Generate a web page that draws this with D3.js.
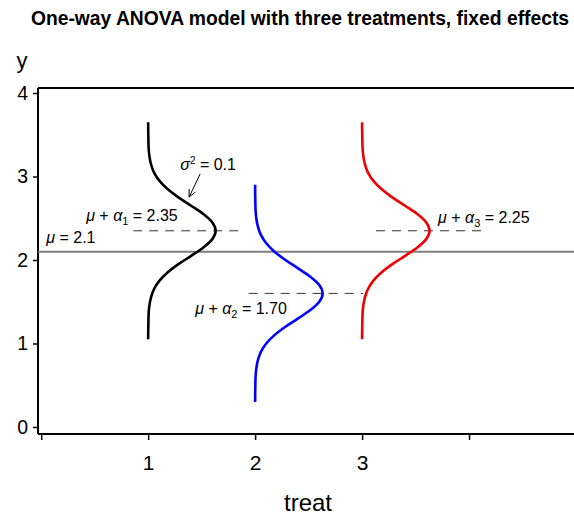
<!DOCTYPE html>
<html>
<head>
<meta charset="utf-8">
<script src="https://cdn.jsdelivr.net/npm/d3@7"></script>
<style>
  body { margin: 0; background: #fff; }
  svg { display: block; font-family: "Liberation Sans", Arial, sans-serif; }
</style>
</head>
<body>
<div id="chart"></div>
<script>
// treatments and where each density peaks
const treatments = [1, 2, 3];
const peakMeans = [2.35, 1.60, 2.35];
const curveColors = ['#000000', '#0000ff', '#ee0000'];
const grandMean = 2.1;

// dashed reference segments at each peak, x-extent in treat units
const dashFrom = [0.86, 1.94, 3.13];
const dashTo = [1.84, 3.01, 4.13];

// half-width of the density (treat units) at vertical distance from the peak
const shapeDist = [0, 0.1, 0.2, 0.3, 0.4, 0.5, 0.6, 0.7, 0.8, 0.9, 1.0, 1.1, 1.2, 1.3];
const shapeWidth = [0.631, 0.600, 0.516, 0.402, 0.283, 0.181, 0.104, 0.054, 0.026, 0.011, 0.004, 0.002, 0.0005, 0];

const yTicks = [0, 1, 2, 3, 4];
const xTicks = [0, 1, 2, 3, 4];
const xTickLabels = ['', '1', '2', '3', ''];

const W = 574, H = 518;

const svg = d3.select('#chart').append('svg')
    .attr('width', W)
    .attr('height', H);

const x = d3.scaleLinear().domain([-0.03, 5.0]).range([38, 576]);
const y = d3.scaleLinear().domain([-0.084, 4.06]).range([434, 88]);

// --- title ---
svg.append('text')
    .attr('x', 300)
    .attr('y', 25)
    .attr('text-anchor', 'middle')
    .attr('font-size', '19.3px')
    .attr('font-weight', 'bold')
    .text('One-way ANOVA model with three treatments, fixed effects');

// --- top border ---
svg.append('line')
    .attr('x1', x(-0.03)).attr('x2', W)
    .attr('y1', y(4.06)).attr('y2', y(4.06))
    .attr('stroke', '#000').attr('stroke-width', 2);

// --- axes ---
const yAxis = svg.append('g')
    .attr('transform', `translate(${x(-0.03)},0)`)
    .call(d3.axisLeft(y).tickValues(yTicks).tickSize(5).tickFormat(d3.format('d')));
yAxis.select('.domain').attr('stroke-width', 2).attr('d', `M0,${y(4.06)}V${y(-0.084)}`);
yAxis.selectAll('.tick line').attr('stroke-width', 1.5);
yAxis.selectAll('.tick text')
    .attr('font-size', '19.5px')
    .attr('font-family', '"Liberation Sans", Arial, sans-serif')
    .attr('x', -10);

const xAxis = svg.append('g')
    .attr('transform', `translate(0,${y(-0.084)})`)
    .call(d3.axisBottom(x).tickValues(xTicks).tickSize(6).tickFormat((d, i) => xTickLabels[i]));
xAxis.select('.domain').attr('stroke-width', 2).attr('d', `M${x(-0.03)},0H${W}`);
xAxis.selectAll('.tick line').attr('stroke-width', 1.5);
xAxis.selectAll('.tick text')
    .attr('font-size', '21px')
    .attr('font-family', '"Liberation Sans", Arial, sans-serif')
    .attr('y', 21);

svg.append('text')
    .attr('x', 22).attr('y', 68)
    .attr('text-anchor', 'middle')
    .attr('font-size', '22px')
    .text('y');

svg.append('text')
    .attr('x', 308).attr('y', 511)
    .attr('text-anchor', 'middle')
    .attr('font-size', '24px')
    .text('treat');

// --- grand mean line ---
svg.append('line')
    .attr('x1', x(-0.03)).attr('x2', W)
    .attr('y1', y(grandMean)).attr('y2', y(grandMean))
    .attr('stroke', '#808080').attr('stroke-width', 2);

// --- dashed lines at peaks ---
treatments.forEach((t, i) => {
    svg.append('line')
        .attr('x1', x(dashFrom[i])).attr('x2', x(dashTo[i]))
        .attr('y1', y(peakMeans[i])).attr('y2', y(peakMeans[i]))
        .attr('stroke', '#333').attr('stroke-width', 1)
        .attr('stroke-dasharray', '9,7');
});

// --- density curves ---
const line = d3.line()
    .x(d => x(d[0]))
    .y(d => y(d[1]))
    .curve(d3.curveMonotoneY);

treatments.forEach((t, i) => {
    const pts = [];
    for (let k = shapeDist.length - 1; k > 0; k--) pts.push([t + shapeWidth[k], peakMeans[i] + shapeDist[k]]);
    for (let k = 0; k < shapeDist.length; k++) pts.push([t + shapeWidth[k], peakMeans[i] - shapeDist[k]]);
    svg.append('path')
        .datum(pts)
        .attr('d', line)
        .attr('fill', 'none')
        .attr('stroke', curveColors[i])
        .attr('stroke-width', 2.6);
});

// --- annotations ---
function meanLabel(px, py, sub, value) {
    const t = svg.append('text')
        .attr('x', x(px)).attr('y', y(py))
        .attr('font-size', '16px');
    t.append('tspan').attr('font-style', 'italic').text('\u03bc');
    t.append('tspan').text(' + ');
    t.append('tspan').attr('font-style', 'italic').text('\u03b1');
    t.append('tspan').attr('font-size', '11px').attr('dy', 4).text(sub);
    t.append('tspan').attr('dy', -4).text(' = ' + value);
}

meanLabel(0.42, 2.47, '1', '2.35');
meanLabel(1.44, 1.35, '2', '1.70');
meanLabel(3.71, 2.44, '3', '2.25');

const muLab = svg.append('text')
    .attr('x', x(0.047)).attr('y', y(2.2))
    .attr('font-size', '16px');
muLab.append('tspan').attr('font-style', 'italic').text('\u03bc');
muLab.append('tspan').text(' = 2.1');

const sigLab = svg.append('text')
    .attr('x', x(1.30)).attr('y', y(3.08))
    .attr('font-size', '16px');
sigLab.append('tspan').attr('font-style', 'italic').text('\u03c3');
sigLab.append('tspan').attr('font-size', '10px').attr('dy', -6).text('2');
sigLab.append('tspan').attr('dy', 6).text(' = 0.1');

// arrow from sigma label to curve
const ax1 = x(1.486), ay1 = y(3.03), ax2 = x(1.383), ay2 = y(2.754);
svg.append('line')
    .attr('x1', ax1).attr('y1', ay1).attr('x2', ax2).attr('y2', ay2)
    .attr('stroke', '#000').attr('stroke-width', 1);
const ang = Math.atan2(ay2 - ay1, ax2 - ax1);
const headLen = 8, spread = 0.45;
svg.append('path')
    .attr('d', `M${ax2 - headLen * Math.cos(ang - spread)},${ay2 - headLen * Math.sin(ang - spread)}L${ax2},${ay2}L${ax2 - headLen * Math.cos(ang + spread)},${ay2 - headLen * Math.sin(ang + spread)}`)
    .attr('fill', 'none')
    .attr('stroke', '#000').attr('stroke-width', 1);
</script>
</body>
</html>
